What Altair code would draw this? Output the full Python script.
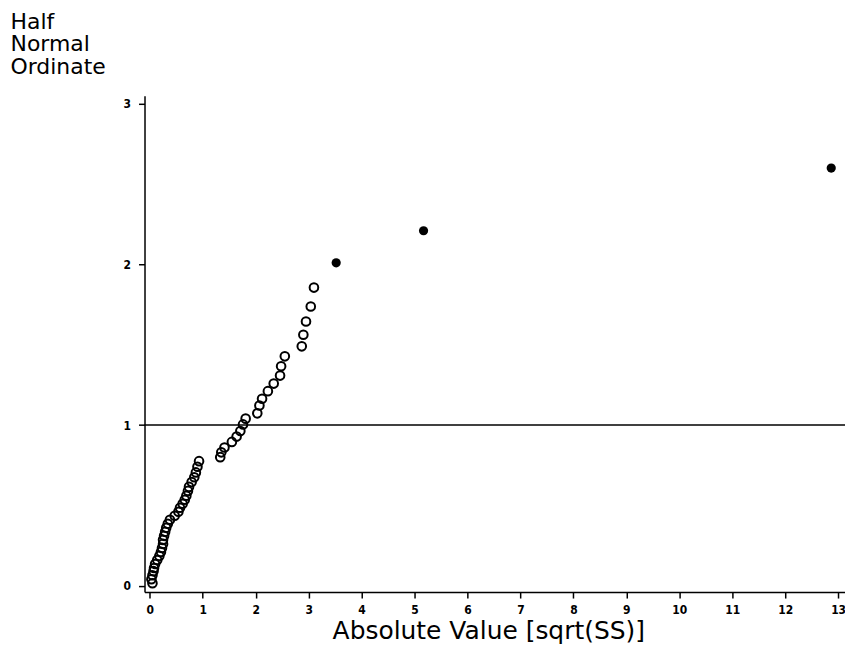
import altair as alt
import pandas as pd

# open circles (Absolute Value, Half Normal Ordinate)
open_x = [0.05, 0.03, 0.05, 0.07, 0.08, 0.10, 0.14, 0.18, 0.21, 0.23,
          0.25, 0.25, 0.27, 0.29, 0.31, 0.34, 0.38, 0.47, 0.54, 0.57,
          0.62, 0.66, 0.69, 0.72, 0.74, 0.79, 0.84, 0.87, 0.90, 0.93,
          1.33, 1.35, 1.41, 1.55, 1.64, 1.71, 1.76, 1.81,
          2.03, 2.07, 2.12, 2.23, 2.34, 2.46, 2.48, 2.55,
          2.87, 2.90, 2.95, 3.04, 3.10]
open_y = [0.015, 0.04, 0.065, 0.09, 0.11, 0.135, 0.16, 0.185, 0.21, 0.235,
          0.26, 0.285, 0.31, 0.335, 0.36, 0.385, 0.41, 0.435, 0.46, 0.485,
          0.51, 0.535, 0.56, 0.59, 0.615, 0.645, 0.675, 0.705, 0.74, 0.775,
          0.80, 0.83, 0.86, 0.895, 0.928, 0.963, 1.004, 1.04,
          1.073, 1.122, 1.164, 1.211, 1.258, 1.308, 1.366, 1.428,
          1.49, 1.562, 1.645, 1.738, 1.856]
# filled points
fill_x = [3.52, 5.17, 12.87]
fill_y = [2.01, 2.21, 2.60]
# reference line
ref_y = [1.0]
# axis tick counts (minor step 0.2 on x, 0.1 on y)
x_tick_count = 66
y_tick_count = 31

open_df = pd.DataFrame({"x": open_x, "y": open_y})
fill_df = pd.DataFrame({"x": fill_x, "y": fill_y})
ref_df = pd.DataFrame({"y": ref_y})

is_int = "abs(datum.value - round(datum.value)) < 0.001"
tick_font = "'DejaVu Sans Condensed', 'Liberation Sans Narrow', sans-serif"
title_font = "DejaVu Sans"

xscale = alt.Scale(domain=[-0.1, 13.13], nice=False, zero=False)
yscale = alt.Scale(domain=[-0.04, 3.05], nice=False, zero=False)

xaxis = alt.Axis(
    tickCount=x_tick_count, format="d", grid=False,
    labelExpr=f"{is_int} ? format(datum.value, 'd') : ''",
    tickSize={"condition": {"test": is_int, "value": 6}, "value": 4},
    labelPadding=7, labelFont=tick_font, labelFontSize=12, labelFontWeight="bold",
    title="Absolute Value [sqrt(SS)]", titleFont=title_font, titleFontSize=25,
    titleFontWeight="normal", titleX=345, titleY=39, titleAlign="center",
    titleBaseline="middle", labelFlush=False, labelOverlap=False,
)
yaxis = alt.Axis(
    tickCount=y_tick_count, format="d", grid=False,
    labelExpr=f"{is_int} ? format(datum.value, 'd') : ''",
    tickSize={"condition": {"test": is_int, "value": 6}, "value": 3},
    labelPadding=8, labelFont=tick_font, labelFontSize=12, labelFontWeight="bold",
    title=["Half", "Normal", "Ordinate"], titleFont=title_font, titleFontSize=22,
    titleFontWeight="normal", titleAngle=0, titleAlign="left", titleBaseline="top",
    titleX=-135, titleY=-85, titleLineHeight=23, labelFlush=False, labelOverlap=False,
)

X = alt.X("x:Q", scale=xscale, axis=xaxis)
Y = alt.Y("y:Q", scale=yscale, axis=yaxis)

rule = alt.Chart(ref_df).mark_rule(color="black", strokeWidth=1.5).encode(y=Y)
opens = alt.Chart(open_df).mark_point(
    shape="circle", filled=False, color="black", strokeWidth=2, size=75, opacity=1
).encode(x=X, y=Y)
fills = alt.Chart(fill_df).mark_point(
    shape="circle", filled=True, color="black", size=85, opacity=1
).encode(x=X, y=Y)

chart = alt.layer(opens, fills, rule).properties(
    width=703, height=498, background="white",
    autosize=alt.AutoSizeParams(type="none"),
    padding={"left": 137, "top": 87, "right": 0, "bottom": 60},
).configure_view(stroke=None).configure_axis(
    domainColor="black", domainWidth=1.5, tickColor="black", tickWidth=1.5,
    labelColor="black", titleColor="black", grid=False,
)

chart.save("out.html", embed_options={"renderer": "svg", "actions": False})
